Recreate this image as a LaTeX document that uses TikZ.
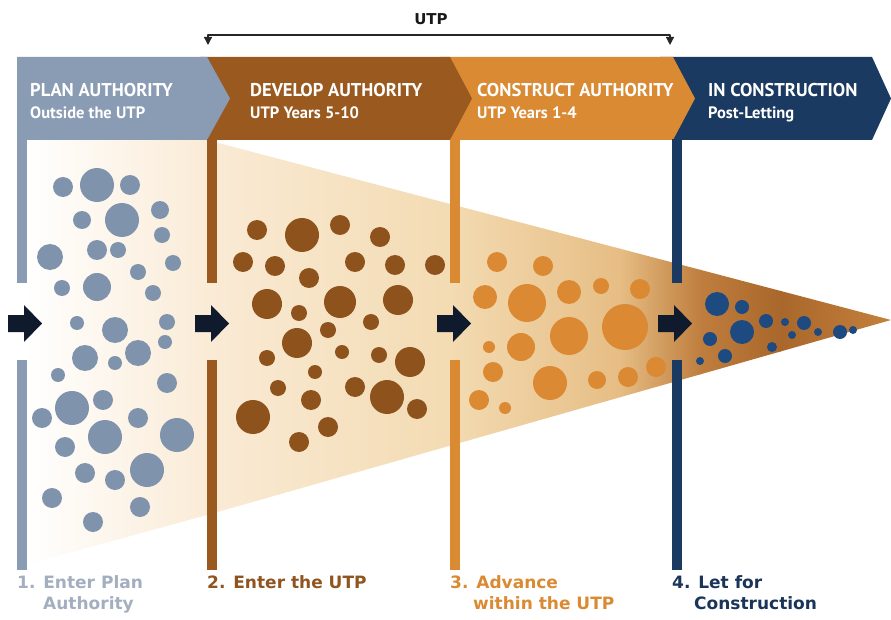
\documentclass[tikz,border=0pt]{standalone}
\usepackage{fontspec}
\setmainfont{PT Sans}
\newfontfamily\labfont{DejaVu Sans}
\usepackage{tikz}
\usetikzlibrary{arrows.meta}
\usetikzlibrary{positioning}
\definecolor{plangray}{HTML}{8A9BB4}
\definecolor{devbrown}{HTML}{9A5A1F}
\definecolor{conorange}{HTML}{D98A32}
\definecolor{innavy}{HTML}{1A3A61}
\definecolor{arrowdark}{HTML}{0F1A2C}
\definecolor{dotgray}{HTML}{8093AD}
\definecolor{dotbrown}{HTML}{8E521D}
\definecolor{dotorange}{HTML}{DB8933}
\definecolor{dotnavy}{HTML}{1E4A82}
\definecolor{labgray}{HTML}{A3AEBF}
\definecolor{labbrown}{HTML}{8F5420}
\definecolor{labnavy}{HTML}{1A3557}
\definecolor{funA}{HTML}{FAEBD6}
\definecolor{funB}{HTML}{F3DBB2}
\definecolor{funC}{HTML}{E6BD84}
\definecolor{funD}{HTML}{BF7E3E}
\definecolor{funE}{HTML}{A9672B}
\definecolor{funF}{HTML}{C4803C}

\begin{document}
\begin{tikzpicture}[line cap=round,line join=round, x=1pt,y=-1pt,
  hdtitle/.style={text=white, font=\bfseries\fontsize{18.5}{20}\selectfont, inner sep=0pt, anchor=base west},
  hdsub/.style={text=white, font=\bfseries\fontsize{16.5}{18}\selectfont, inner sep=0pt, anchor=base west},
  steplab/.style={font=\labfont\bfseries\fontsize{17}{19}\selectfont, inner sep=0pt, anchor=base west}]
\useasboundingbox (0,0) rectangle (891,620);
\begin{scope}
\clip (25,140) -- (207,140) -- (891,320) -- (207,515) -- (25,565) -- cycle;
\foreach \xa/\xb/\ca/\cb in {25/208/white/funA, 207/451/funA/funB, 450/621/funB/funC, 620/701/funC/funD, 700/781/funD/funE, 780/891/funE/funF}
  \shade [left color=\ca, right color=\cb] (\xa,140) rectangle (\xb,570);
\end{scope}
\fill [color=innavy] (660,57) -- (872,57) -- (891,98.5) -- (872,140) -- (660,140) -- cycle;
\fill [color=conorange] (440,57) -- (673,57) -- (695,98.5) -- (673,140) -- (440,140) -- cycle;
\fill [color=devbrown] (200,57) -- (450,57) -- (472,98.5) -- (450,140) -- (200,140) -- cycle;
\fill [color=plangray] (17,57) -- (207,57) -- (230,98.5) -- (207,140) -- (17,140) -- cycle;
\foreach \bx/\bc in {17/plangray, 207/devbrown, 450/conorange, 672/innavy} {
  \fill [color=\bc] (\bx,139) rectangle ++(10,144);
  \fill [color=\bc] (\bx,360) rectangle ++(10,210);
}
\foreach \ax in {8,195,437,658}
  \fill [color=arrowdark] (\ax,315) -- ++(16,0) -- ++(0,-10) -- ++(18,18.5) -- ++(-18,18.5) -- ++(0,-10) -- ++(-16,0) -- cycle;
\foreach \cx/\cy/\r in {63/187/10, 97/185/17, 130/185/10, 82/220/9, 122/220/17, 160/210/9, 162/235/8, 50/257/13, 97/250/10, 118/250/8, 138/272/8, 173/263/8, 62/288/8, 97/287/14, 153/293/8, 77/323/7, 115/330/13, 167/322/8, 85/358/13, 115/363/7, 138/353/13, 165/342/7, 58/375/7, 167/383/10, 72/408/17, 103/400/10, 42/418/10, 138/418/10, 105/437/17, 177/435/17, 65/447/10, 85/473/10, 115/480/10, 147/470/17, 52/498/10, 140/507/10, 93/522/10}
  \fill [color=dotgray] (\cx,\cy) circle (\r);
\foreach \cx/\cy/\r in {257/230/10, 302/235/17, 340/225/10, 380/237/10, 243/262/10, 275/266/10, 309/278/10, 355/262/10, 395/265/10, 435/265/10, 267/304/15, 299/313/8, 340/302/16, 398/300/15, 328/330/8, 371/322/8, 297/343/15, 267/358/8, 342/352/7, 379/355/8, 410/362/15, 315/372/7, 278/388/8, 355/387/10, 387/397/17, 417/409/10, 253/417/17, 311/400/10, 328/427/10, 299/442/10}
  \fill [color=dotbrown] (\cx,\cy) circle (\r);
\foreach \cx/\cy/\r in {497/262/10, 543/266/10, 485/297/12, 527/303/19, 569/292/12, 601/286/8, 640/289/10, 569/336/19, 625/327/23, 521/347/14, 489/347/6, 493/372/10, 550/383/17, 597/380/9, 628/377/10, 656/367/10, 479/400/10, 505/408/6}
  \fill [color=dotorange] (\cx,\cy) circle (\r);
\foreach \cx/\cy/\r in {717/304/12, 742/307/7, 742/332/12, 710/339/7, 725/356/7, 700/361/4, 766/321/7, 785/322/4, 804/323/7, 792/335/4, 772/347/5, 818/332/4, 840/332/7, 853/330/4}
  \fill [color=dotnavy] (\cx,\cy) circle (\r);
\node [hdtitle] (plant) at (30,97) {PLAN AUTHORITY};
\node [hdsub] (plans) at (30,119) {Outside the UTP};
\node [hdtitle] (devt) at (250,97) {DEVELOP AUTHORITY};
\node [hdsub] (devs) at (250,119) {UTP Years 5-10};
\node [hdtitle] (cont) at (477,97) {CONSTRUCT AUTHORITY};
\node [hdsub] (cons) at (477,119) {UTP Years 1-4};
\node [hdtitle] (inct) at (708,97) {IN CONSTRUCTION};
\node [hdsub] (incs) at (708,119) {Post-Letting};
\node [font=\labfont\bfseries\fontsize{15}{17}\selectfont, inner sep=0pt, color=black!90] (utp) at (431,19) {UTP};
\coordinate (utpL) at (208,45);
\coordinate (utpR) at (670,45);
\draw [color=black!85, line width=1.3pt, {Triangle[width=8pt,length=8pt]}-{Triangle[width=8pt,length=8pt]}] (utpL) -- ++(0,-10) -| (utpR);
\node [steplab, text=labgray] (stepa) at (17,588) {1. Enter Plan};
\node [steplab, text=labgray] (stepab) at (43,609) {Authority};
\node [steplab, text=labbrown] (stepb) at (207,588) {2. Enter the UTP};
\node [steplab, text=conorange] (stepc) at (450,588) {3. Advance};
\node [steplab, text=conorange] (stepcb) at (473,609) {within the UTP};
\node [steplab, text=labnavy] (stepd) at (672,588) {4. Let for};
\node [steplab, text=labnavy] (stepdb) at (694,609) {Construction};
\end{tikzpicture}
\end{document}
